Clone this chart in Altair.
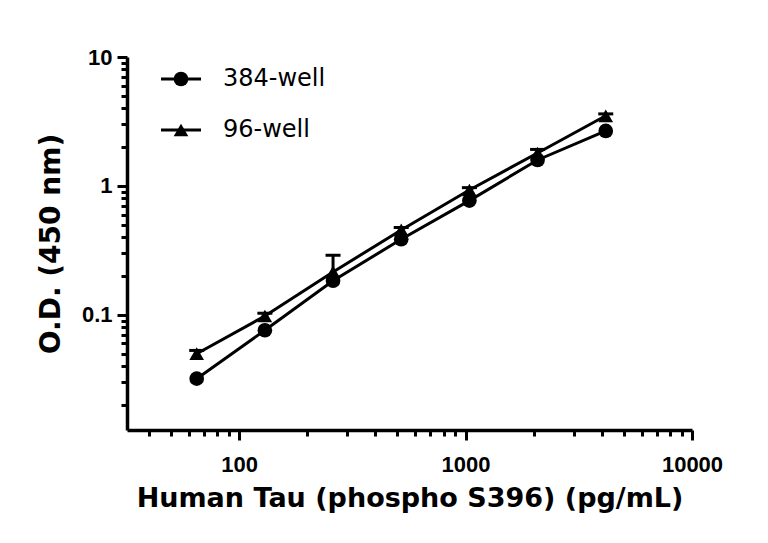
import altair as alt
import pandas as pd

# ---- data ----
concentration = [65, 130, 260, 520, 1040, 2080, 4160]
od_384 = [0.032, 0.076, 0.184, 0.386, 0.77, 1.59, 2.67]
od_96 = [0.050, 0.098, 0.215, 0.456, 0.93, 1.80, 3.50]
sd_96 = [0.003, 0.005, 0.075, 0.02, 0.04, 0.12, 0.12]
series = ["384-well", "96-well"]
shapes = ["circle", "triangle-up"]

x_ticks = [40, 50, 60, 70, 80, 90, 100, 200, 300, 400, 500, 600, 700, 800, 900,
           1000, 2000, 3000, 4000, 5000, 6000, 7000, 8000, 9000, 10000]
y_ticks = [0.02, 0.03, 0.04, 0.05, 0.06, 0.07, 0.08, 0.09, 0.1,
           0.2, 0.3, 0.4, 0.5, 0.6, 0.7, 0.8, 0.9, 1,
           2, 3, 4, 5, 6, 7, 8, 9, 10]
x_domain = [32, 10000]
y_domain = [0.0128, 10]

rows = []
for c, v in zip(concentration, od_384):
    rows.append({"conc": c, "od": v, "series": series[0], "upper": v, "sd": 0.0})
for c, v, s in zip(concentration, od_96, sd_96):
    rows.append({"conc": c, "od": v, "series": series[1], "upper": v + s, "sd": s})
df = pd.DataFrame(rows)

major = "abs(log(datum.value)/LN10 - round(log(datum.value)/LN10)) < 0.0001"
lab = f"({major}) ? (datum.value >= 1 ? format(datum.value, 'd') : format(datum.value, '.1f')) : ''"
tick_size = {"condition": {"test": major, "value": 10}, "value": 6}

W, H = 565, 373

xaxis = alt.Axis(
    values=x_ticks, title="Human Tau (phospho S396) (pg/mL)", labelExpr=lab,
    tickSize=tick_size, tickWidth=3, tickColor="black", domainWidth=3.5, domainColor="black",
    labelFont="Liberation Sans", labelFontWeight="bold", labelFontSize=22, labelColor="black",
    labelBaseline="alphabetic", labelPadding=31, labelOverlap=False, labelBound=False, labelFlush=False,
    titleFont="DejaVu Sans", titleFontWeight="bold", titleFontSize=27, titleColor="black",
    titleX=W / 2, titleY=76, titleBaseline="alphabetic", titleAlign="center",
    grid=False,
)
yaxis = alt.Axis(
    values=y_ticks, title="O.D. (450 nm)", labelExpr=lab,
    tickSize=tick_size, tickWidth=3, tickColor="black", domainWidth=3.5, domainColor="black",
    labelFont="Liberation Sans", labelFontWeight="bold", labelFontSize=22, labelColor="black",
    labelPadding=5, labelOverlap=False, labelBound=False, labelFlush=False,
    titleFont="DejaVu Sans", titleFontWeight="bold", titleFontSize=28, titleColor="black",
    titleX=-76, titleY=H / 2, titleBaseline="middle", titleAlign="center", titleAngle=270,
    grid=False,
)
xs = alt.Scale(type="log", domain=x_domain, nice=False)
ys = alt.Scale(type="log", domain=y_domain, nice=False)

base = alt.Chart(df).encode(
    x=alt.X("conc:Q", scale=xs, axis=xaxis),
    y=alt.Y("od:Q", scale=ys, axis=yaxis),
)

lines = base.mark_line(color="black", strokeWidth=3).encode(detail="series:N")
err = base.transform_filter("datum.sd > 0").mark_rule(color="black", strokeWidth=3).encode(
    y2="upper:Q")
caps = base.transform_filter("datum.sd > 0").mark_tick(
    color="black", thickness=3, size=15, orient="horizontal", opacity=1
).encode(y=alt.Y("upper:Q", scale=ys, axis=yaxis))
points = base.mark_point(filled=True, opacity=1, color="black", size=215).encode(
    shape=alt.Shape("series:N", scale=alt.Scale(domain=series, range=shapes), legend=None)
)

# ---- manual legend (line through marker + label) ----
legend_layers = []
for i, name in enumerate(series):
    one = pd.DataFrame({"series": [name]})
    ly = 22 + 51 * i
    legend_layers.append(
        alt.Chart(one).mark_rule(color="black", strokeWidth=3).encode(
            x=alt.value(34), x2=alt.value(74), y=alt.value(ly)))
    legend_layers.append(
        alt.Chart(one).mark_point(filled=True, opacity=1, color="black", size=215,
                                  shape=shapes[i]).encode(x=alt.value(54), y=alt.value(ly)))
    legend_layers.append(
        alt.Chart(one).mark_text(align="left", baseline="middle", font="DejaVu Sans",
                                 fontSize=24, color="black").encode(
            x=alt.value(96), y=alt.value(ly), text=alt.value(name)))

chart = alt.layer(lines, err, caps, points, *legend_layers).properties(
    width=W, height=H,
    padding={"left": 119, "top": 49, "right": 60, "bottom": 90},
    autosize=alt.AutoSizeParams(type="none"),
    background="white",
).configure_view(stroke=None)

chart.save("out.html", embed_options={"renderer": "svg", "actions": False})
